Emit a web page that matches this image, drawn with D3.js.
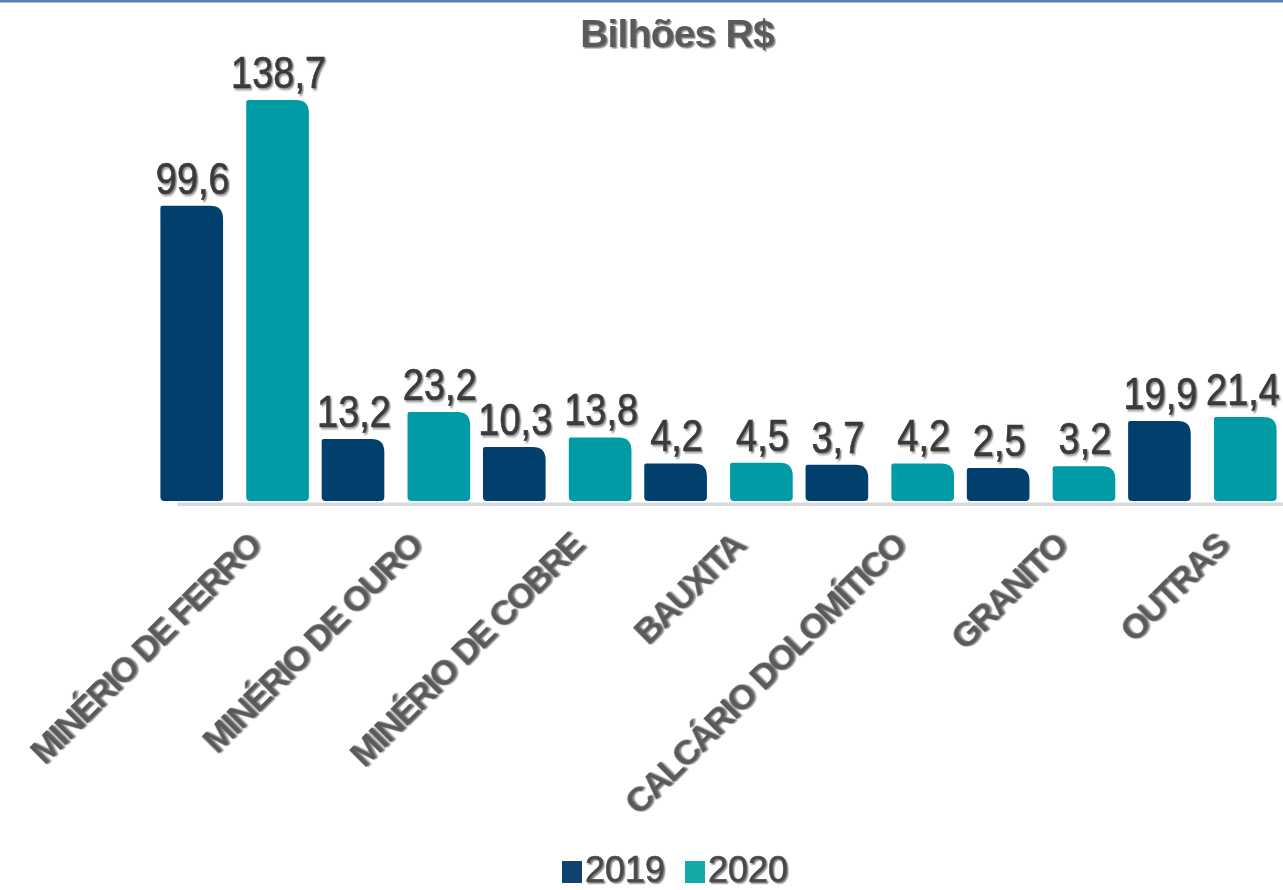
<!DOCTYPE html>
<html>
<head>
<meta charset="utf-8">
<script src="https://cdn.jsdelivr.net/npm/d3@7"></script>
<style>
  html, body { margin: 0; padding: 0; background: #ffffff; }
  svg { display: block; }
  text { font-family: "Liberation Sans", Arial, sans-serif; }
</style>
</head>
<body>
<svg id="chart" width="1283" height="890"></svg>
<script>
// ---- data ----
const categories = ["MINÉRIO DE FERRO", "MINÉRIO DE OURO", "MINÉRIO DE COBRE", "BAUXITA", "CALCÁRIO DOLOMÍTICO", "GRANITO", "OUTRAS"];
const series = ["2019", "2020"];
const values2019 = [99.6, 13.2, 10.3, 4.2, 3.7, 2.5, 19.9];
const values2020 = [138.7, 23.2, 13.8, 4.5, 4.2, 3.2, 21.4];
const title = "Bilhões R$";
const colors = { "2019": "#013f6d", "2020": "#009ba5" };
const legendColors = { "2019": "#0f4270", "2020": "#13aaa8" };

const W = 1283, H = 890;
const svg = d3.select("#chart");

// shadow filter
const defs = svg.append("defs");
const f = defs.append("filter").attr("id", "tshadow").attr("x", "-10%").attr("y", "-10%").attr("width", "130%").attr("height", "140%");
f.append("feDropShadow").attr("dx", 1.5).attr("dy", 1.5).attr("stdDeviation", 0.7).attr("flood-color", "#8a8a8a").attr("flood-opacity", 1);

// top rule
svg.append("rect").attr("x", 0).attr("y", 0).attr("width", W).attr("height", 2.5).attr("fill", "#5a7fa8");

const data = categories.map((c, i) => ({ cat: c, vals: [
  { s: "2019", v: values2019[i] }, { s: "2020", v: values2020[i] }
]}));

const x0 = d3.scaleBand().domain(categories).range([154, 1283]).paddingInner(0.0794).paddingOuter(0.0397);
const x1 = d3.scaleBand().domain(series).range([0, x0.bandwidth()]).paddingInner(0.27).paddingOuter(0);
const y = d3.scaleLinear().domain([-9.7, 138.7]).range([501, 100]);
const baseV = y.domain()[0];

// baseline shadow line
svg.append("rect")
  .attr("x", x0(categories[0]) + 17).attr("y", y(baseV) + 1.5)
  .attr("width", W).attr("height", 3.5).attr("fill", "#d9d9d9");

function barPath(xx, yy, w, h) {
  const rTR = Math.min(13, h / 2, w / 2), rTL = 2, rB = 4;
  return `M${xx},${yy + rTL}` +
    ` Q${xx},${yy} ${xx + rTL},${yy}` +
    ` L${xx + w - rTR},${yy}` +
    ` Q${xx + w},${yy} ${xx + w},${yy + rTR}` +
    ` L${xx + w},${yy + h - rB}` +
    ` Q${xx + w},${yy + h} ${xx + w - rB},${yy + h}` +
    ` L${xx + rB},${yy + h}` +
    ` Q${xx},${yy + h} ${xx},${yy + h - rB} Z`;
}

const groups = svg.append("g").selectAll("g").data(data).join("g")
  .attr("transform", d => `translate(${x0(d.cat)},0)`);

groups.selectAll("path").data(d => d.vals).join("path")
  .attr("d", d => barPath(x1(d.s), y(d.v), x1.bandwidth(), y(baseV) - y(d.v)))
  .attr("fill", d => colors[d.s]);

// value labels
const lbl = groups.selectAll("g.lbl").data(d => d.vals).join("g").attr("class", "lbl");
lbl.append("text")
  .attr("text-anchor", "middle")
  .attr("font-size", 38)
  .attr("fill", "#3a3a3a")
  .attr("stroke", "#3a3a3a")
  .attr("stroke-width", 0.6)
  .attr("filter", "url(#tshadow)")
  .text(d => d.v.toFixed(1).replace(".", ","));
lbl.each(function(d) {
  const g = d3.select(this);
  const gx = x0(d3.select(this.parentNode).datum().cat);
  const tw = g.select("text").node().getComputedTextLength();
  let cx = x1(d.s) + x1.bandwidth() / 2 + 1;
  const maxCx = (W - 3 - tw / 2) - gx;
  cx = Math.min(cx, maxCx);
  g.attr("transform", `translate(${cx},${y(d.v) - 12}) scale(1,1.15)`);
});

// category labels
svg.append("g").selectAll("text").data(categories).join("text")
  .attr("transform", d => `translate(${x0(d) + x0.bandwidth() / 2 + 28},${548}) rotate(-45)`)
  .attr("text-anchor", "end")
  .attr("font-size", 35)
  .attr("font-weight", "bold")
  .attr("letter-spacing", -2)
  .attr("fill", "#5a5a5a")
  .attr("filter", "url(#tshadow)")
  .text(d => d);

// title
svg.append("text")
  .attr("x", 677).attr("y", 47)
  .attr("text-anchor", "middle")
  .attr("font-size", 39)
  .attr("font-weight", "bold")
  .attr("letter-spacing", -0.8)
  .attr("fill", "#5a5a5a")
  .attr("filter", "url(#tshadow)")
  .text(title);

// legend
const legend = svg.append("g");
const legX = [562, 685];
series.forEach((s, i) => {
  legend.append("rect").attr("x", legX[i]).attr("y", 861).attr("width", 20).attr("height", 22).attr("fill", legendColors[s]);
  legend.append("g").attr("transform", `translate(${legX[i] + 23},882) scale(1,1.05)`)
    .append("text")
    .attr("font-size", 36)
    .attr("fill", "#4a4a4a")
    .attr("stroke", "#4a4a4a")
    .attr("stroke-width", 0.6)
    .attr("filter", "url(#tshadow)")
    .text(s);
});
</script>
</body>
</html>
